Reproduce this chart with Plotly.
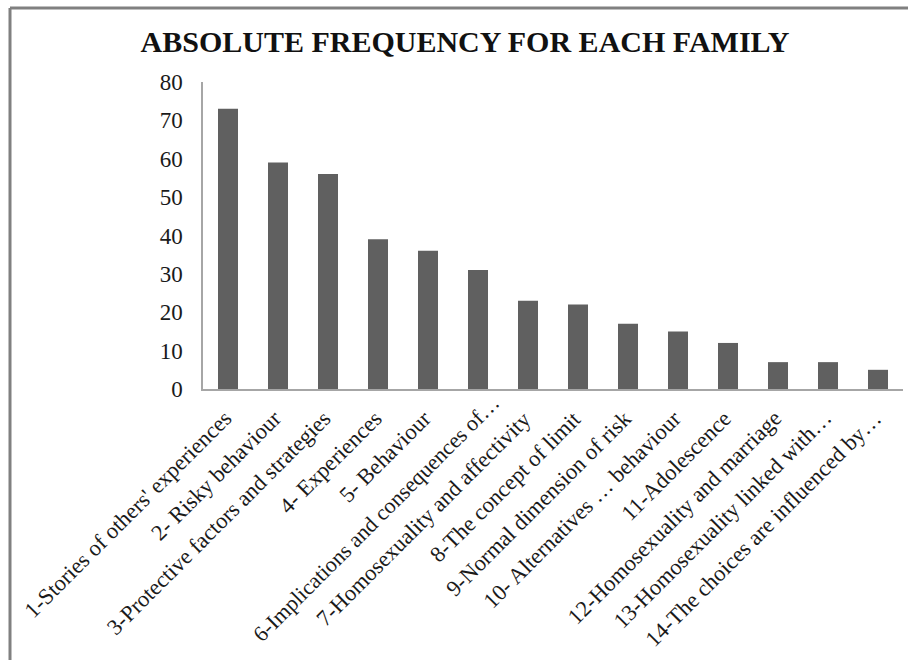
import plotly.graph_objects as go

categories = [
    "1-Stories of others' experiences",
    "2- Risky behaviour",
    "3-Protective factors and strategies",
    "4- Experiences",
    "5- Behaviour",
    "6-Implications and consequences of…",
    "7-Homosexuality and affectivity",
    "8-The concept of limit",
    "9-Normal dimension of risk",
    "10- Alternatives … behaviour",
    "11-Adolescence",
    "12-Homosexuality and marriage",
    "13-Homosexuality linked with…",
    "14-The choices are influenced by…",
]
values = [73, 59, 56, 39, 36, 31, 23, 22, 17, 15, 12, 7, 7, 5]
y_ticks = [0, 10, 20, 30, 40, 50, 60, 70, 80]
title_text = "ABSOLUTE FREQUENCY FOR EACH FAMILY"

W, H = 908, 660
L, R, T, B = 203, 5, 82, 271
PW, PH = W - L - R, H - T - B

font_family = "Liberation Serif"

fig = go.Figure(
    go.Bar(
        x=categories,
        y=values,
        marker=dict(color="#606060", line=dict(width=0)),
        width=0.4,
    )
)

# category labels, rotated, anchored at their category position below the axis
annotations = []
for i, cat in enumerate(categories):
    xs, ys, fs = 11, -5, 22.5
    if cat.startswith("6-"):
        xs, ys, fs = 29, 11, 22
    annotations.append(dict(
        x=cat, xref="x",
        y=-(398 - (H - B)) / PH, yref="paper",
        text=cat, showarrow=False, textangle=-45,
        xanchor="right", yanchor="top",
        xshift=xs, yshift=ys,
        font=dict(family=font_family, size=fs, color="#1a1a1a"),
    ))

fig.update_layout(
    width=W,
    height=H,
    margin=dict(l=L, r=R, t=T, b=B, autoexpand=False),
    paper_bgcolor="white",
    plot_bgcolor="white",
    showlegend=False,
    font=dict(family=font_family),
    title=dict(
        text="<b>" + title_text + "</b>",
        font=dict(family=font_family, size=30, color="#111111"),
        x=465 / W,
        xref="container",
        xanchor="center",
        y=1 - 41 / H,
        yref="container",
        yanchor="middle",
    ),
    xaxis=dict(
        showticklabels=False,
        showgrid=False,
        showline=True,
        linecolor="#a6a6a6",
        linewidth=1.5,
        ticks="",
        range=[-0.5, len(categories) - 0.5],
    ),
    yaxis=dict(
        range=[0, 80],
        tickvals=y_ticks,
        tickfont=dict(family=font_family, size=23, color="#1a1a1a"),
        showgrid=False,
        zeroline=False,
        showline=True,
        linecolor="#a6a6a6",
        linewidth=1.5,
        ticks="",
        ticklabelstandoff=14,
    ),
    annotations=annotations,
    shapes=[
        dict(
            type="line", xref="paper", yref="paper",
            x0=(10 - L) / PW, x1=(W + 10 - L) / PW,
            y0=1 + (T - 8) / PH, y1=1 + (T - 8) / PH,
            line=dict(color="#808080", width=3),
        ),
        dict(
            type="line", xref="paper", yref="paper",
            x0=(10 - L) / PW, x1=(10 - L) / PW,
            y0=1 + (T - 8) / PH, y1=-(B + 20) / PH,
            line=dict(color="#808080", width=3),
        ),
    ],
)

fig.write_html("out.html")
